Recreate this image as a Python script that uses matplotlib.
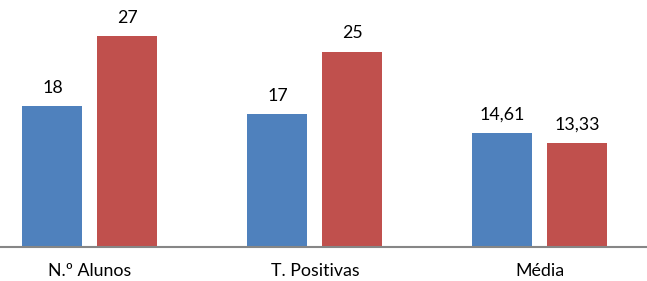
import matplotlib
matplotlib.use("Agg")
import matplotlib.pyplot as plt
import numpy as np

categories = ["N.º Alunos", "T. Positivas", "Média"]
series_a = [18, 17, 14.61]
series_b = [27, 25, 13.33]
labels_a = ["18", "17", "14,61"]
labels_b = ["27", "25", "13,33"]

plt.rcParams['font.family'] = ['Lato', 'DejaVu Sans']

fig = plt.figure(figsize=(6.47, 2.81), dpi=100)
ax = fig.add_axes([0, 34/281, 1, 1 - 34/281])

x = np.arange(len(categories))
w = 0.2667
off = 0.1667
ba = ax.bar(x - off, series_a, width=w, color="#4F81BD")
bb = ax.bar(x + off, series_b, width=w, color="#C0504D")

for bars, labs in ((ba, labels_a), (bb, labels_b)):
    for rect, lab in zip(bars, labs):
        ax.annotate(lab, (rect.get_x() + rect.get_width() / 2, rect.get_height()),
                    xytext=(0, 9.5), textcoords="offset points",
                    ha="center", va="baseline", fontsize=12.8, color="#000000")

ax.set_xlim(-0.4, 2.476)
ax.set_ylim(0, 31.6)
ax.set_xticks(x)
ax.set_xticklabels(categories, fontsize=12.8)
ax.tick_params(axis='x', length=0, pad=11.5)
ax.set_yticks([])
for s in ["top", "right", "left"]:
    ax.spines[s].set_visible(False)
ax.spines["bottom"].set_color("#868686")
ax.spines["bottom"].set_linewidth(1.5)

fig.savefig("out.png", dpi=100)
